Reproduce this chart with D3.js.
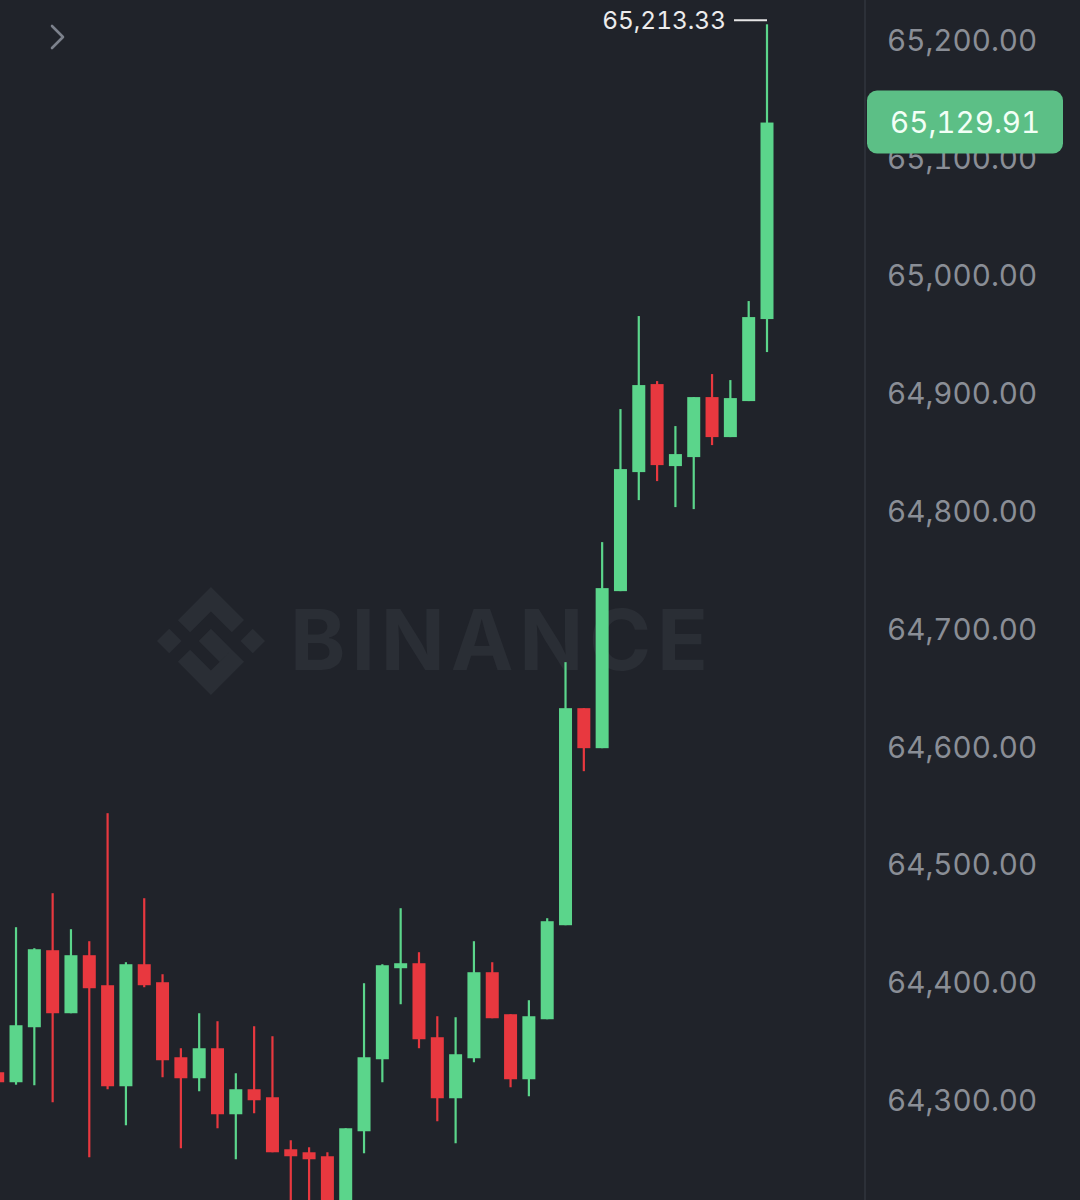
<!DOCTYPE html>
<html><head><meta charset="utf-8">
<script src="https://cdn.jsdelivr.net/npm/d3@7/dist/d3.min.js"></script>
<style>html,body{margin:0;padding:0;background:#20232a;overflow:hidden} text.num{font-variant-numeric:tabular-nums;font-feature-settings:"tnum" 1}</style>
</head><body>
<svg id="c" width="1080" height="1200"></svg>
<script>
// Candle data, oldest first
const opens  = [64323.56,64315.07,64361.78,64427.17,64373.67,64422.93,64397.45,64311.67,64415.28,64400.00,64336.30,64318.47,64343.95,64287.89,64309.13,64302.33,64258.17,64255.62,64252.23,64202.12,64273.46,64334.60,64411.89,64416.13,64353.29,64301.48,64335.45,64408.49,64372.82,64317.62,64368.57,64448.40,64632.69,64598.72,64732.06,64833.12,64907.85,64838.22,64845.86,64896.81,64862.84,64893.42,64963.06];
const highs  = [64329.51,64446.71,64428.87,64475.58,64445.01,64434.82,64543.52,64416.98,64471.33,64406.79,64343.95,64373.67,64366.88,64322.71,64362.63,64354.14,64265.81,64259.87,64255.62,64276.00,64399.15,64415.28,64462.84,64425.47,64371.12,64370.27,64434.82,64416.98,64372.82,64384.71,64454.35,64671.76,64632.69,64773.67,64886.62,64965.60,64910.40,64872.19,64896.81,64916.35,64911.25,64978.34,65213.33];
const lows   = [64308.28,64313.00,64312.52,64298.09,64373.67,64251.38,64309.13,64278.55,64395.75,64319.32,64259.02,64307.43,64276.00,64249.68,64288.74,64255.62,64189.38,64189.38,64180.89,64180.89,64254.77,64315.07,64381.31,64343.95,64281.95,64263.27,64332.06,64369.42,64310.82,64303.18,64368.57,64448.40,64579.19,64598.72,64732.06,64809.34,64825.48,64803.40,64801.70,64856.05,64862.84,64893.42,64935.03];
const closes = [64315.07,64363.48,64428.02,64373.67,64422.93,64394.90,64311.67,64415.28,64397.45,64333.75,64318.47,64343.95,64287.89,64309.13,64299.78,64255.62,64252.23,64249.68,64202.12,64276.00,64336.30,64414.43,64416.13,64351.59,64301.48,64338.85,64408.49,64369.42,64317.62,64371.12,64451.80,64632.69,64598.72,64734.61,64835.67,64907.01,64839.06,64848.41,64896.81,64862.84,64895.96,64964.75,65129.91];
const tickValues = [64300,64400,64500,64600,64700,64800,64900,65000,65100,65200];
const lastPrice = 65129.91;
const highMark = 65213.33;

const W = 1080, H = 1200, plotRight = 864;
const GREEN = "#5bd58b", RED = "#e8383f";
const FONT = "Inter, Roboto, sans-serif";
const svg = d3.select("#c");
svg.append("rect").attr("width", W).attr("height", H).attr("fill", "#20232a");

const x = d3.scaleLinear().domain([0, opens.length - 1]).range([-2.3, 767]);
const y = d3.scaleLinear().domain([64300, 65200]).range([1100, 40]);

// watermark
const wm = svg.append("g").attr("fill", "#2a2e35");
wm.append("path")
  .attr("d", "M16.624 13.9202l2.7175 2.7154-7.353 7.353-7.353-7.352 2.7175-2.7164 4.6355 4.6595 4.6356-4.6595zm4.6366-4.6366L24 12l-2.7154 2.7164L18.5682 12l2.6924-2.7164zm-9.272.001l4.6366 4.6366-2.7175 2.7154-4.6366-4.6366.0041-.004 2.7175-2.7175zm-9.2722-.001L5.4335 12l-2.7154 2.7164L0 12l2.7164-2.7164zM11.9885.0115l7.353 7.329-2.7174 2.7154-4.6356-4.6356-4.6355 4.6595-2.7174-2.7154 7.353-7.353z")
  .attr("transform", "translate(157,587) scale(4.5)");
wm.append("text").attr("x", 290).attr("y", 670)
  .attr("font-family", "Inter, 'Open Sans', sans-serif").attr("font-weight", 700)
  .attr("font-size", 84).attr("textLength", 418).attr("lengthAdjust", "spacing")
  .text("BINANCE");

// chevron
svg.append("path").attr("d", "M52,26 L63,37 L52,48").attr("fill", "none")
  .attr("stroke", "#7c818c").attr("stroke-width", 2.6).attr("stroke-linecap", "round").attr("stroke-linejoin", "round");

// candles
svg.append("clipPath").attr("id", "plot").append("rect").attr("x", 0).attr("y", 0).attr("width", plotRight).attr("height", H);
const data = opens.map((o, i) => ({i, o, h: highs[i], l: lows[i], c: closes[i]}));
const g = svg.append("g").attr("clip-path", "url(#plot)");
const bw = 13;
const cg = g.selectAll("g.candle").data(data).join("g").attr("class", "candle");
cg.append("rect")
  .attr("x", d => x(d.i) - 1.1).attr("width", 2.2)
  .attr("y", d => y(d.h)).attr("height", d => Math.max(1, y(d.l) - y(d.h)))
  .attr("fill", d => d.c >= d.o ? GREEN : RED);
cg.append("rect")
  .attr("x", d => x(d.i) - bw / 2).attr("width", bw)
  .attr("y", d => y(Math.max(d.o, d.c)))
  .attr("height", d => Math.max(2, Math.abs(y(d.o) - y(d.c))))
  .attr("fill", d => d.c >= d.o ? GREEN : RED);

// axis separator
svg.append("rect").attr("x", plotRight).attr("y", 0).attr("width", 2).attr("height", H).attr("fill", "#2c3038");

// right axis
const axis = d3.axisRight(y).tickValues(tickValues).tickSize(0).tickPadding(0).tickFormat(d3.format(",.2f"));
const ag = svg.append("g").attr("transform", "translate(887,0)").call(axis);
ag.select(".domain").remove();
ag.selectAll("text").attr("class", "num").attr("fill", "#8a8e96").attr("font-size", 29.6)
  .attr("font-family", FONT).attr("dy", "0.35em").attr("x", 0)
  .attr("text-anchor", "start");

// high marker
svg.append("line").attr("x1", 734).attr("x2", 767).attr("y1", y(highMark) - 4).attr("y2", y(highMark) - 4)
  .attr("stroke", "#e6e6e6").attr("stroke-width", 2);
svg.append("text").attr("class", "num").attr("x", 726).attr("y", y(highMark) - 4).attr("dy", "0.35em")
  .attr("text-anchor", "end").attr("fill", "#ececec").attr("font-size", 24.4)
  .attr("font-family", FONT).text(d3.format(",.2f")(highMark));

// last price badge
const by = y(lastPrice);
svg.append("rect").attr("x", 867).attr("y", by - 32).attr("width", 196).attr("height", 63).attr("rx", 10)
  .attr("fill", "#5cbf86");
svg.append("text").attr("class", "num").attr("x", 890).attr("y", by).attr("dy", "0.35em")
  .attr("fill", "#f2fff6").attr("font-size", 29.6).attr("font-family", FONT)
  .text(d3.format(",.2f")(lastPrice));
</script>
</body></html>
